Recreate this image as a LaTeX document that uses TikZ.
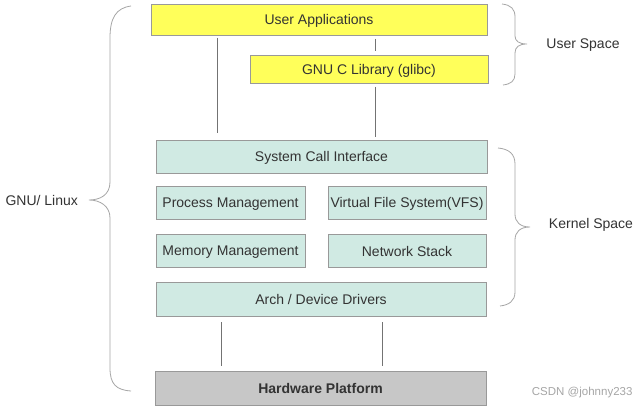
\documentclass[tikz,border=0pt]{standalone}
\usepackage{fontspec}
\setmainfont{Liberation Sans}
\begin{document}
\begin{tikzpicture}[x=1pt,y=-1pt,
  box/.style={draw=black!40, line width=0.6pt, inner sep=0pt, text height=10pt, text depth=0pt, font=\fontsize{14}{16}\selectfont, text=black!80},
  ubox/.style={box, fill=uyel},
  kbox/.style={box, fill={rgb,255:red,208;green,234;blue,227}},
  hbox/.style={box, fill=black!22, font=\fontsize{14}{16}\selectfont\bfseries},
  link/.style={draw=black!55, line width=0.6pt},
  brace/.style={draw=black!35, line width=0.8pt},
  lbl/.style={font=\fontsize{14}{16}\selectfont, text=black!80}]
\definecolor{uyel}{RGB}{255,255,90}
\useasboundingbox (0,0) rectangle (640,409);
\fill[white] (0,0) rectangle (640,409);
\node[ubox, minimum width=336pt, minimum height=31pt] (ua) at (319,20) {User Applications};
\node[ubox, minimum width=238pt, minimum height=28pt] (glibc) at (369,69.5) {GNU C Library (glibc)};
\node[kbox, minimum width=331pt, minimum height=33pt] (sci) at (321.5,157) {System Call Interface};
\node[kbox, minimum width=149pt, minimum height=33pt] (pm) at (230.5,202.5) {Process Management};
\node[kbox, minimum width=158pt, minimum height=33pt] (vfs) at (407,202.5) {Virtual File System(VFS)};
\node[kbox, minimum width=149pt, minimum height=33pt] (mm) at (230.5,250.5) {Memory Management};
\node[kbox, minimum width=158pt, minimum height=33pt] (ns) at (407,251) {Network Stack};
\node[kbox, minimum width=330pt, minimum height=34pt] (arch) at (321,299.5) {Arch / Device Drivers};
\node[hbox, minimum width=331pt, minimum height=34pt] (hw) at (320.5,388.5) {Hardware Platform};
% connectors
\coordinate (a1) at (217,38); \coordinate (a2) at (217,133);
\draw[link] (a1) -- (a2);
\coordinate (b1) at (375,39); \coordinate (b2) at (375,51);
\draw[link] (b1) -- (b2);
\coordinate (c1) at (375,87); \coordinate (c2) at (375,137);
\draw[link] (c1) -- (c2);
\coordinate (d1) at (221,322); \coordinate (d2) at (221,366);
\draw[link] (d1) -- (d2);
\coordinate (e1) at (382,322); \coordinate (e2) at (382,366);
\draw[link] (e1) -- (e2);
% left brace
\draw[brace] (131,6) .. controls (116,8) and (110,18) .. (110,38) -- (110,182)
  .. controls (110,195) and (100,200) .. (89,200)
  .. controls (100,200) and (110,206) .. (110,218) -- (110,368)
  .. controls (110,384) and (116,390) .. (131,391);
\node[lbl, anchor=west] (gnu) at (2,200) {GNU/ Linux};
% user space brace
\draw[brace] (502,4) .. controls (511,5) and (515,9) .. (515,17) -- (515,36)
  .. controls (515,41) and (519,44) .. (527,44)
  .. controls (519,44) and (515,47) .. (515,53) -- (515,74)
  .. controls (515,81) and (511,84) .. (503,85);
\node[lbl] (us) at (583,45) {User Space};
% kernel space brace
\draw[brace] (498,148) .. controls (509,149) and (515,154) .. (515,164) -- (515,214)
  .. controls (515,222) and (520,227) .. (530,227)
  .. controls (520,227) and (515,232) .. (515,240) -- (515,292)
  .. controls (515,301) and (509,305) .. (500,306);
\node[lbl] (ks) at (591,225) {Kernel Space};
\node[font=\fontsize{11.5}{12}\selectfont, text=black!35, anchor=east] (wm) at (636,393) {CSDN @johnny233};
\end{tikzpicture}
\end{document}
